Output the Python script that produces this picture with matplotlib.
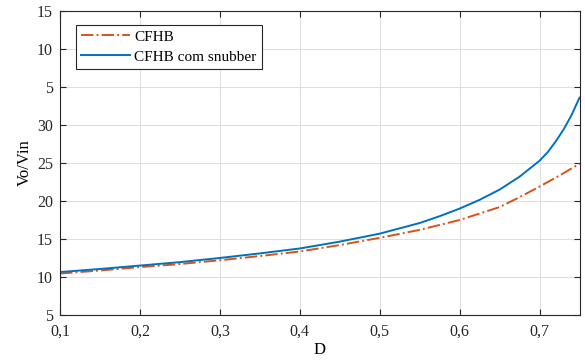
import matplotlib
matplotlib.use("Agg")
import matplotlib.pyplot as plt

# Data
d_blue = [0.10, 0.15, 0.20, 0.25, 0.30, 0.35, 0.40, 0.45, 0.50, 0.55, 0.575, 0.60, 0.625,
          0.65, 0.675, 0.70, 0.71, 0.72, 0.73, 0.74, 0.75]
v_blue = [10.65, 11.05, 11.5, 11.95, 12.5, 13.1, 13.75, 14.65, 15.7, 17.1, 18.0, 19.0, 20.15,
          21.5, 23.2, 25.3, 26.4, 27.8, 29.4, 31.3, 33.6]
d_red = [0.10, 0.15, 0.20, 0.25, 0.30, 0.35, 0.40, 0.45, 0.50, 0.55, 0.60, 0.65,
         0.675, 0.70, 0.725, 0.75]
v_red = [10.45, 10.85, 11.3, 11.7, 12.2, 12.75, 13.35, 14.2, 15.15, 16.2, 17.5, 19.2,
         20.5, 21.9, 23.35, 24.9]

x_ticks = [0.1, 0.2, 0.3, 0.4, 0.5, 0.6, 0.7]
x_ticklabels = ["0,1", "0,2", "0,3", "0,4", "0,5", "0,6", "0,7"]
y_ticks = [5, 10, 15, 20, 25, 30, 35, 40, 45]
y_ticklabels = ["5", "10", "15", "20", "25", "30", "5", "10", "15"]

plt.rcParams['font.family'] = ['Liberation Serif', 'DejaVu Serif']

fig = plt.figure(figsize=(5.85, 3.62), dpi=100)
ax = fig.add_axes([0.1026, 0.130, 0.888, 0.8394])

ax.plot(d_red, v_red, color='#D95319', linestyle='-.', linewidth=1.4, label='CFHB')
ax.plot(d_blue, v_blue, color='#0072BD', linestyle='-', linewidth=1.4, label='CFHB com snubber')

ax.set_xlim(0.1, 0.75)
ax.set_ylim(5, 45)
ax.set_xticks(x_ticks)
ax.set_xticklabels(x_ticklabels)
ax.set_yticks(y_ticks)
ax.set_yticklabels(y_ticklabels)
ax.tick_params(direction='in', top=True, right=True, length=4, width=0.8, labelsize=11.5,
               colors='#262626')
ax.tick_params(axis='x', pad=6)
ax.tick_params(axis='y', pad=5)
for sp in ax.spines.values():
    sp.set_color('#262626')
    sp.set_linewidth(0.8)
ax.grid(True, color='#DFDFDF', linewidth=0.8)
ax.set_axisbelow(True)

ax.set_xlabel('D', fontsize=12, labelpad=2)
ax.set_ylabel('Vo/Vin', fontsize=12, labelpad=3)

leg = ax.legend(loc='upper left', bbox_to_anchor=(0.03, 0.955), fancybox=False,
                edgecolor='#262626', framealpha=1, fontsize=11, handlelength=3.2,
                borderpad=0.35, labelspacing=0.4, handletextpad=0.3, borderaxespad=0)
leg.get_frame().set_linewidth(0.8)

fig.savefig('out.png', dpi=100)
